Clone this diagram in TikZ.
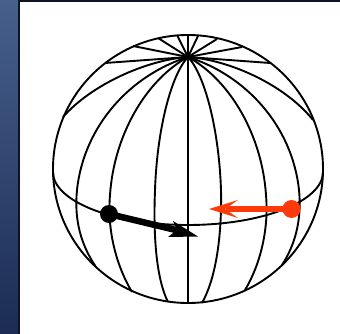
\documentclass[tikz,border=0pt]{standalone}
\definecolor{striptop}{RGB}{70,96,140}
\definecolor{stripbot}{RGB}{28,44,84}
\definecolor{edgedark}{RGB}{14,20,38}
\definecolor{redarrow}{RGB}{255,58,10}
\tikzset{
  globe/.style={draw=black,line width=1.9pt,line join=round},
}
\begin{document}
\begin{tikzpicture}[x=1pt,y=-1pt]
\useasboundingbox (0,0) rectangle (340,334);
\fill[white] (0,0) rectangle (340,334);
\shade[top color=striptop,bottom color=stripbot] (0,0) rectangle (19,334);
\fill[edgedark] (18,0) rectangle (20,334);
\fill[edgedark] (18,0) rectangle (340,2.5);
% outline
\coordinate (centre) at (188,169);
\coordinate (pole) at (188,57);
% equator
\draw[globe] (53,172) arc[start angle=180,end angle=360,x radius=135,y radius=-53];
% back meridians
\foreach \x/\y in {105/63,133/46,158/38,177/35,188/35,198/36,217/39,242/47,270/63}
  \draw[globe] (pole) -- (\x,\y);
% central meridian
\draw[globe] (pole) -- (188,303);
% right meridians
\draw[globe] (pole) .. controls (205,75) and (219,130) .. (221,190) .. controls (222,240) and (215,280) .. (202,303);
\draw[globe] (pole) .. controls (230,80) and (262,135) .. (266,195) .. controls (269,230) and (260,265) .. (245,290);
\draw[globe] (pole) .. controls (245,75) and (292,125) .. (299,190) .. controls (302,220) and (295,245) .. (282,265);
\draw[globe] (pole) .. controls (230,60) and (285,85) .. (313,120);
% left meridians
\draw[globe] (pole) .. controls (171,75) and (157,130) .. (155,190) .. controls (153,240) and (157,280) .. (168,302);
\draw[globe] (pole) .. controls (146,80) and (114,135) .. (110,195) .. controls (107,230) and (116,265) .. (132,292);
\draw[globe] (pole) .. controls (131,75) and (84,125) .. (77,190) .. controls (74,220) and (81,245) .. (96,267);
\draw[globe] (pole) .. controls (146,60) and (91,85) .. (63,117);
\draw[globe] (centre) circle[x radius=135,y radius=-134];
% black vector
\node[circle,fill=black,inner sep=0pt,minimum size=18pt] (bdot) at (109,214) {};
\coordinate (btip) at (198,236.5);
\fill[black] (173,221) -- (btip) -- (168,237) -- (177,230) -- cycle;
\draw[black,line width=6.5pt] (bdot.center) -- (180,231);
% red vector
\node[circle,fill=redarrow,inner sep=0pt,minimum size=18pt] (rdot) at (291.5,209) {};
\coordinate (rtip) at (209,209);
\fill[redarrow] (238,200) -- (rtip) -- (238,218) -- (225,209) -- cycle;
\draw[redarrow,line width=6pt] (rdot.center) -- (226,209);
\end{tikzpicture}
\end{document}
